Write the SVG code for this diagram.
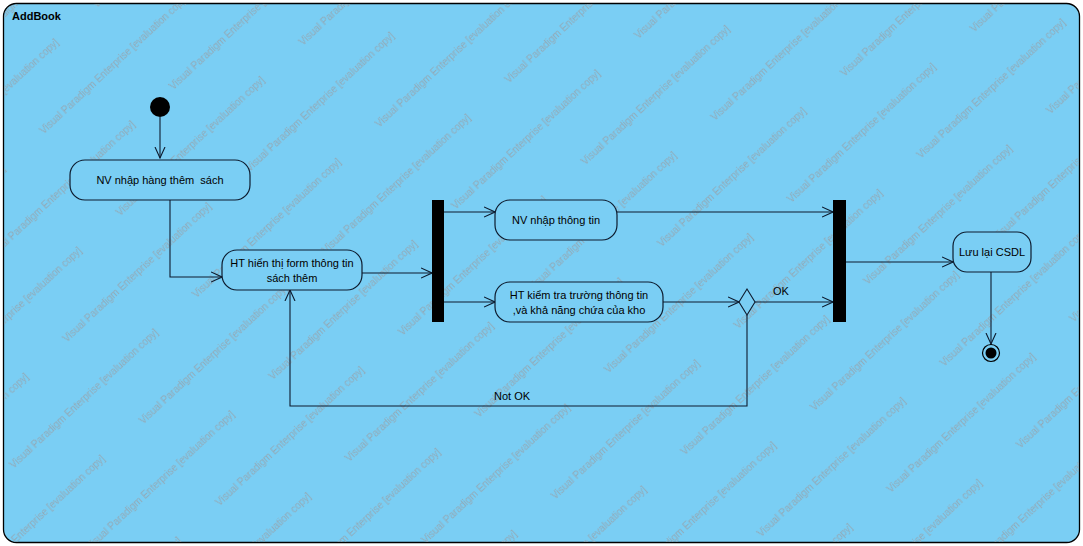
<svg xmlns="http://www.w3.org/2000/svg" width="1083" height="546" viewBox="0 0 1083 546">
<style>
.node{fill:#7ACEF4;stroke:#0d1b2e;stroke-width:1.2}
.t{font-family:"Liberation Sans",Arial,sans-serif;font-size:11px;fill:#000;text-anchor:middle;white-space:pre}
.wm{font-family:"Liberation Sans",Arial,sans-serif;font-size:10px;fill:#92a9b6}
.edge{fill:none;stroke:#0d1b2e;stroke-width:1.1}
.bar{fill:#000}
</style>
<defs>
<marker id="arr" viewBox="0 0 12 12" refX="11" refY="6" markerWidth="12" markerHeight="12" markerUnits="userSpaceOnUse" orient="auto">
<path d="M0,1 L11,6 L0,11" fill="none" stroke="#0d1b2e" stroke-width="1.1"/>
</marker>
<pattern id="wmp" patternUnits="userSpaceOnUse" width="250" height="112" patternTransform="translate(30,120) rotate(-43)">
<text class="wm" x="0" y="20">Visual Paradigm Enterprise [evaluation copy]</text>
<text class="wm" x="125" y="76">Visual Paradigm Enterprise [evaluation copy]</text>
<text class="wm" x="-125" y="76">Visual Paradigm Enterprise [evaluation copy]</text>
</pattern>
</defs>
<rect width="1083" height="546" fill="#ffffff"/>
<g id="frame">
<rect x="3.5" y="3.5" width="1076" height="539" rx="13" fill="#7ACEF4" stroke="#000" stroke-width="1.3"/>
<rect x="4" y="4" width="1075" height="538" rx="13" fill="url(#wmp)"/>
<text x="12" y="20" style="font-family:'Liberation Sans',Arial,sans-serif;font-size:11px;font-weight:bold">AddBook</text>
</g>
<g id="connectors">
<path class="edge" d="M160,117 V158" marker-end="url(#arr)"/>
<path class="edge" d="M170,200 V277 H222" marker-end="url(#arr)"/>
<path class="edge" d="M362,273 H432" marker-end="url(#arr)"/>
<path class="edge" d="M444,212 H495" marker-end="url(#arr)"/>
<path class="edge" d="M444,302 H495" marker-end="url(#arr)"/>
<path class="edge" d="M617,212 H833" marker-end="url(#arr)"/>
<path class="edge" d="M663,302 H739" marker-end="url(#arr)"/>
<path class="edge" d="M755,302 H833" marker-end="url(#arr)"/>
<text class="t" x="781" y="295">OK</text>
<path class="edge" d="M747,315 V406 H290 V290" marker-end="url(#arr)"/>
<text class="t" x="512" y="400">Not OK</text>
<path class="edge" d="M846,262 H953" marker-end="url(#arr)"/>
<path class="edge" d="M991,271 V344" marker-end="url(#arr)"/>
</g>
<g id="start"><circle cx="160" cy="107" r="10" fill="#000"/></g>
<g id="n1"><rect class="node" x="70" y="160" width="180" height="40" rx="15"/><text class="t" x="160" y="184" xml:space="preserve">NV nhập hàng thêm  sách</text></g>
<g id="n2"><rect class="node" x="222" y="250" width="140" height="40" rx="15"/><text class="t" x="292" y="267">HT hiển thị form thông tin</text><text class="t" x="292" y="282">sách thêm</text></g>
<g id="fork"><rect class="bar" x="432" y="200" width="12" height="122"/></g>
<g id="n3"><rect class="node" x="495" y="200" width="122" height="40" rx="15"/><text class="t" x="556" y="224">NV nhập thông tin</text></g>
<g id="n4"><rect class="node" x="495" y="282" width="168" height="40" rx="15"/><text class="t" x="579" y="299">HT kiểm tra trường thông tin</text><text class="t" x="579" y="314">,và khả năng chứa của kho</text></g>
<g id="decision"><path d="M739,302 L747,289 L755,302 L747,315 Z" fill="#7ACEF4" stroke="#0d1b2e" stroke-width="1.1"/></g>
<g id="join"><rect class="bar" x="833" y="200" width="13" height="122"/></g>
<g id="n5"><rect class="node" x="953" y="232" width="78" height="40" rx="14"/><text class="t" x="992" y="256">Lưu lại CSDL</text></g>
<g id="end"><circle cx="991" cy="353" r="8.5" fill="none" stroke="#000" stroke-width="1.2"/><circle cx="991" cy="353" r="5.5" fill="#000"/></g>
</svg>
